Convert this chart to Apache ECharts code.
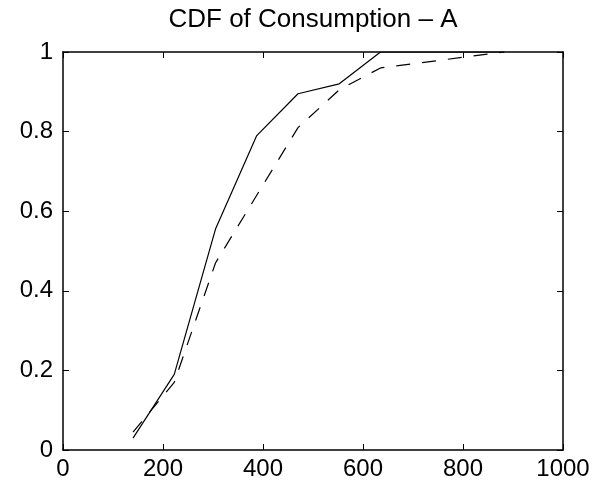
<!DOCTYPE html>
<html>
<head>
<meta charset="utf-8">
<script src="https://cdn.jsdelivr.net/npm/echarts@6/dist/echarts.min.js"></script>
<style>
  html, body { margin: 0; padding: 0; background: #fff; }
  #main { width: 608px; height: 489px; }
</style>
</head>
<body>
<div id="main"></div>
<script>
var consumption = [140, 222.5, 305, 387.5, 470, 552.5, 635, 717.5, 800, 882.5];
var cdfSolid = [0.03, 0.19, 0.555, 0.79, 0.895, 0.92, 1.0, 1.0, 1.0, 1.0];
var cdfDashed = [0.045, 0.17, 0.47, 0.64, 0.81, 0.905, 0.96, 0.973, 0.987, 1.0];

var pairs = function(xs, ys) {
  var res = [];
  for (var i = 0; i < xs.length; i++) {
    res.push([xs[i], ys[i]]);
  }
  return res;
};

var myChart = echarts.init(document.getElementById('main'));

var fontFam = 'Liberation Sans, Arial, sans-serif';
var boxLine = { color: '#000', width: 1.5 };

var option = {
  animation: false,
  backgroundColor: '#fff',
  title: {
    text: 'CDF of Consumption \u2013 A',
    left: 313,
    textAlign: 'center',
    top: 7,
    padding: 0,
    textStyle: { color: '#000', fontFamily: fontFam, fontSize: 26, fontWeight: 'normal' }
  },
  grid: { left: 63, right: 45, top: 52, bottom: 39 },
  xAxis: [{
    type: 'value', min: 0, max: 1000, interval: 200, position: 'bottom',
    axisLine: { onZero: false, lineStyle: boxLine },
    axisTick: { inside: true, length: 6, lineStyle: { color: '#000', width: 1 } },
    axisLabel: {
      color: '#000', fontFamily: fontFam, fontSize: 24, margin: 7,
      formatter: function(v) { return String(v); }
    },
    splitLine: { show: false }
  }, {
    type: 'value', min: 0, max: 1000, interval: 200, position: 'top',
    axisLine: { onZero: false, lineStyle: boxLine },
    axisTick: { inside: true, length: 6, lineStyle: { color: '#000', width: 1 } },
    axisLabel: { show: false },
    splitLine: { show: false }
  }],
  yAxis: [{
    type: 'value', min: 0, max: 1, interval: 0.2, position: 'left',
    axisLine: { show: true, onZero: false, lineStyle: boxLine },
    axisTick: { show: true, inside: true, length: 6, lineStyle: { color: '#000', width: 1 } },
    axisLabel: { color: '#000', fontFamily: fontFam, fontSize: 24, margin: 10 },
    splitLine: { show: false }
  }, {
    type: 'value', min: 0, max: 1, interval: 0.2, position: 'right',
    axisLine: { show: true, onZero: false, lineStyle: boxLine },
    axisTick: { show: true, inside: true, length: 6, lineStyle: { color: '#000', width: 1 } },
    axisLabel: { show: false },
    splitLine: { show: false }
  }],
  series: [{
    type: 'line',
    data: pairs(consumption, cdfSolid),
    showSymbol: false,
    lineStyle: { color: '#000', width: 1.2 },
    z: 3
  }, {
    type: 'line',
    data: pairs(consumption, cdfDashed),
    showSymbol: false,
    lineStyle: { color: '#000', width: 1.2, type: [14, 12] },
    z: 3
  }]
};
myChart.setOption(option);
</script>
</body>
</html>
